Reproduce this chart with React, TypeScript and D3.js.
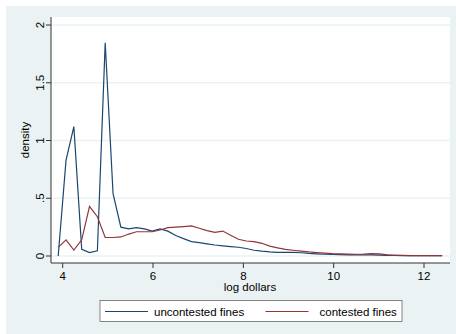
import React from "react";
import * as d3 from "d3";

const logDollars = [3.900, 4.074, 4.247, 4.421, 4.594, 4.768, 4.941, 5.115, 5.288, 5.462,
  5.635, 5.809, 5.982, 6.156, 6.329, 6.503, 6.676, 6.850, 7.023, 7.197,
  7.370, 7.544, 7.717, 7.891, 8.064, 8.238, 8.411, 8.585, 8.758, 8.932,
  9.105, 9.279, 9.452, 9.626, 9.799, 9.973, 10.146, 10.320, 10.493, 10.667,
  10.840, 11.014, 11.187, 11.361, 11.534, 11.708, 11.881, 12.055, 12.228, 12.402];

const uncontested = [0.0, 0.83, 1.12, 0.058, 0.03, 0.045, 1.847, 0.54, 0.25, 0.235,
  0.245, 0.235, 0.216, 0.234, 0.215, 0.178, 0.15, 0.125, 0.115, 0.105,
  0.095, 0.088, 0.082, 0.076, 0.065, 0.05, 0.042, 0.036, 0.032, 0.032,
  0.031, 0.028, 0.022, 0.018, 0.015, 0.013, 0.012, 0.01, 0.01, 0.009,
  0.009, 0.008, 0.006, 0.005, 0.004, 0.004, 0.004, 0.004, 0.004, 0.004];

const contested = [0.075, 0.14, 0.052, 0.14, 0.43, 0.34, 0.16, 0.16, 0.165, 0.19,
  0.21, 0.21, 0.21, 0.225, 0.245, 0.25, 0.255, 0.26, 0.24, 0.22,
  0.205, 0.216, 0.18, 0.145, 0.13, 0.125, 0.11, 0.085, 0.07, 0.058,
  0.05, 0.042, 0.035, 0.03, 0.025, 0.02, 0.018, 0.016, 0.015, 0.016,
  0.02, 0.018, 0.01, 0.006, 0.005, 0.004, 0.004, 0.004, 0.004, 0.004];

const xTicks = [4, 6, 8, 10, 12];
const yTicks = [0, 0.5, 1, 1.5, 2];
const yTickLabels = ["0", ".5", "1", "1.5", "2"];
const seriesNames = ["uncontested fines", "contested fines"];
const seriesColors = ["#1a476f", "#90353b"];

const W = 456, H = 334;
const plot = { left: 51, right: 450, top: 17, bottom: 263 };
const FONT = "'Liberation Sans', Arial, Helvetica, sans-serif";

export default function App() {
  const x = d3.scaleLinear().domain([4, 12]).range([62.7, 424]);
  const y = d3.scaleLinear().domain([0, 2]).range([256, 25]);
  const line = d3.line<number>()
    .x((_, i) => x(logDollars[i]))
    .y((v) => y(v));
  const series = [uncontested, contested];

  return (
    <svg width={W} height={H} style={{ position: "absolute", left: 0, top: 0, display: "block" }}>
      <rect x={0} y={0} width={W} height={H} fill="#ffffff" />
      <rect x={6} y={6} width={W - 6} height={H - 6} fill="#eaf2f3" />
      <rect x={plot.left} y={plot.top} width={plot.right - plot.left} height={plot.bottom - plot.top} fill="#ffffff" />
      {yTicks.map((t) => (
        <line key={"g" + t} x1={plot.left} x2={plot.right} y1={y(t)} y2={y(t)} stroke="#eaf2f3" strokeWidth={1.5} />
      ))}
      {series.map((s, k) => (
        <path key={k} d={line(s) || ""} fill="none" stroke={seriesColors[k]} strokeWidth={1.2} strokeLinejoin="miter" />
      ))}
      {/* axes */}
      <line x1={plot.left} x2={plot.left} y1={plot.top} y2={plot.bottom} stroke="#333" strokeWidth={1} />
      <line x1={plot.left} x2={plot.right} y1={plot.bottom} y2={plot.bottom} stroke="#333" strokeWidth={1} />
      {yTicks.map((t, i) => (
        <g key={"y" + t}>
          <line x1={plot.left - 5} x2={plot.left} y1={y(t)} y2={y(t)} stroke="#333" strokeWidth={1} />
          <text transform={`translate(${44},${y(t)}) rotate(-90)`} textAnchor="middle" fontFamily={FONT} fontSize={11.5} fill="#000">
            {yTickLabels[i]}
          </text>
        </g>
      ))}
      {xTicks.map((t) => (
        <g key={"x" + t}>
          <line x1={x(t)} x2={x(t)} y1={plot.bottom} y2={plot.bottom + 5} stroke="#333" strokeWidth={1} />
          <text x={x(t)} y={280} textAnchor="middle" fontFamily={FONT} fontSize={11.5} fill="#000">{t}</text>
        </g>
      ))}
      <text x={250} y={291} textAnchor="middle" fontFamily={FONT} fontSize={11.5} fill="#000">log dollars</text>
      <text transform={`translate(29,${(plot.top + plot.bottom) / 2}) rotate(-90)`} textAnchor="middle" fontFamily={FONT} fontSize={11.5} fill="#000">density</text>
      {/* legend */}
      <rect x={100} y={300.5} width={302} height={21} fill="#ffffff" stroke="#666" strokeWidth={0.8} />
      <line x1={105} x2={148} y1={311.5} y2={311.5} stroke={seriesColors[0]} strokeWidth={1.2} />
      <text x={154} y={315.5} fontFamily={FONT} fontSize={11.5} fill="#000">{seriesNames[0]}</text>
      <line x1={265.5} x2={308.5} y1={311.5} y2={311.5} stroke={seriesColors[1]} strokeWidth={1.2} />
      <text x={319.5} y={315.5} fontFamily={FONT} fontSize={11.5} fill="#000">{seriesNames[1]}</text>
    </svg>
  );
}
